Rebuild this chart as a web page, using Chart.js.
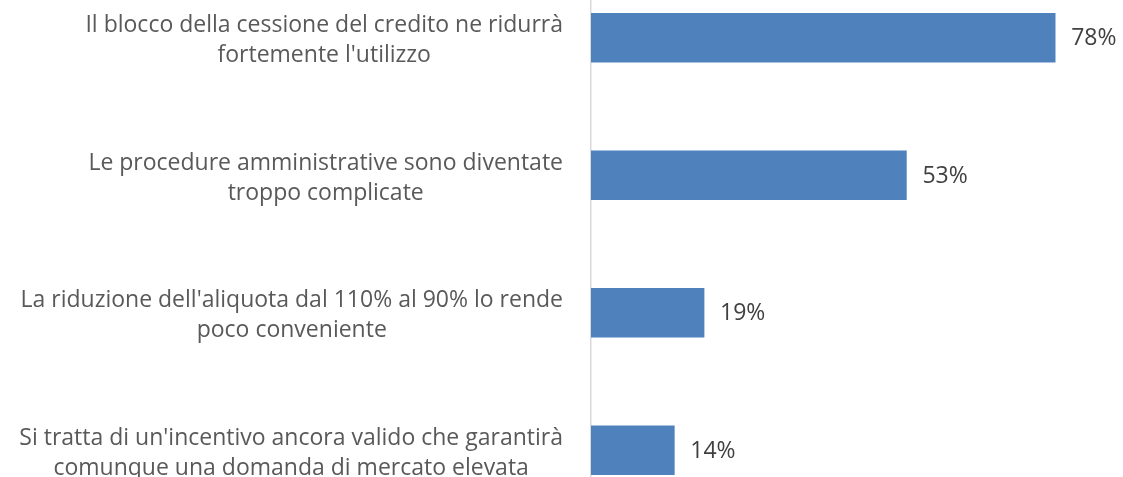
<!DOCTYPE html>
<html>
<head>
<meta charset="utf-8">
<script src="https://cdn.jsdelivr.net/npm/chart.js@4/dist/chart.umd.min.js"></script>
<style>
  html, body { margin: 0; padding: 0; background: #fff; overflow: hidden; }
  #wrap { position: absolute; left: 0; top: -31px; width: 1123px; height: 550px; }
</style>
</head>
<body>
<div id="wrap"><canvas id="barChart"></canvas></div>
<script>
const categories = [
  ["Il blocco della cessione del credito ne ridurrà", "fortemente l'utilizzo"],
  ["Le procedure amministrative sono diventate", "troppo complicate"],
  ["La riduzione dell'aliquota dal 110% al 90% lo rende", "poco conveniente"],
  ["Si tratta di un'incentivo ancora valido che garantirà", "comunque una domanda di mercato elevata"]
];
const values = [78, 53, 19, 14];

const FONT = "'Open Sans', sans-serif";

// category labels: each block centred on itself, widest line ending near the axis
const labelPlugin = {
  id: "catLabels",
  afterDraw(chart) {
    const ctx = chart.ctx;
    const yScale = chart.scales.y;
    ctx.save();
    ctx.font = "23px " + FONT;
    ctx.fillStyle = "#595959";
    ctx.textAlign = "center";
    ctx.textBaseline = "middle";
    categories.forEach((lines, i) => {
      const y = yScale.getPixelForTick(i) + 3;
      const w = Math.max(...lines.map(l => ctx.measureText(l).width));
      const cx = chart.chartArea.left - 28 - w / 2;
      const lh = 30;
      lines.forEach((l, j) => {
        ctx.fillText(l, cx, y + (j - (lines.length - 1) / 2) * lh);
      });
    });
    // value labels
    const meta = chart.getDatasetMeta(0);
    ctx.fillStyle = "#404040";
    ctx.textAlign = "left";
    ctx.font = "23px " + FONT;
    meta.data.forEach((bar, i) => {
      ctx.fillText(values[i] + "%", bar.x + 16, bar.y + 1);
    });
    ctx.restore();
  }
};

new Chart(document.getElementById("barChart"), {
  type: "bar",
  data: {
    labels: categories.map(c => c.join(" ")),
    datasets: [{
      data: values,
      backgroundColor: "#4F81BD",
      borderWidth: 0,
      barThickness: 49
    }]
  },
  options: {
    indexAxis: "y",
    responsive: true,
    maintainAspectRatio: false,
    animation: false,
    layout: { padding: { left: 591, right: 0, top: 0, bottom: 0 } },
    plugins: { legend: { display: false }, tooltip: { enabled: false } },
    scales: {
      x: { display: false, min: 0, max: 89.4 },
      y: {
        ticks: { display: false },
        grid: { display: false, drawTicks: false },
        border: { display: true, color: "#d9d9d9", width: 1.5 }
      }
    }
  },
  plugins: [labelPlugin]
});
</script>
</body>
</html>
